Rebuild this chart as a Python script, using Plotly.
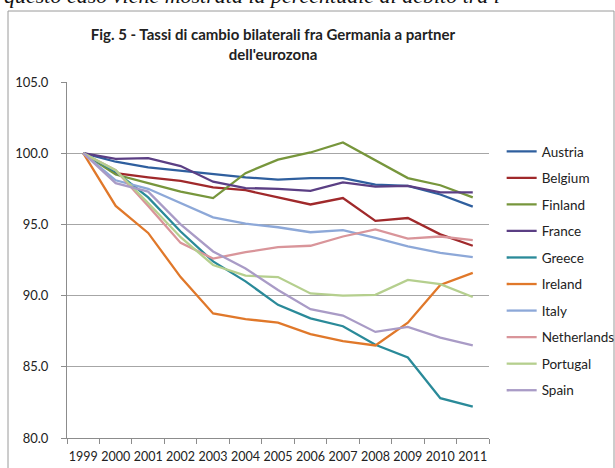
import plotly.graph_objects as go

years = [str(y) for y in range(1999, 2012)]

austria = [100, 99.4, 99.0, 98.75, 98.5, 98.3, 98.15, 98.25, 98.25, 97.8, 97.7, 97.1, 96.25]
belgium = [100, 98.6, 98.3, 98.05, 97.6, 97.4, 96.9, 96.4, 96.85, 95.25, 95.45, 94.3, 93.5]
finland = [100, 98.5, 97.9, 97.3, 96.85, 98.6, 99.55, 100.05, 100.75, 99.5, 98.25, 97.75, 96.9]
france = [100, 99.6, 99.65, 99.1, 98.0, 97.55, 97.5, 97.35, 97.95, 97.65, 97.7, 97.25, 97.25]
greece = [100, 98.7, 96.9, 94.5, 92.4, 91.0, 89.35, 88.4, 87.85, 86.55, 85.65, 82.8, 82.2]
ireland = [100, 96.3, 94.4, 91.3, 88.75, 88.35, 88.1, 87.3, 86.8, 86.5, 88.1, 90.75, 91.6]
italy = [100, 98.1, 97.5, 96.5, 95.5, 95.05, 94.8, 94.45, 94.6, 94.05, 93.45, 93.0, 92.7]
netherlands = [100, 98.8, 96.3, 93.7, 92.6, 93.05, 93.4, 93.5, 94.15, 94.65, 94.0, 94.15, 93.9]
portugal = [100, 98.8, 96.5, 94.1, 92.15, 91.4, 91.3, 90.15, 90.0, 90.05, 91.1, 90.8, 89.9]
spain = [100, 97.9, 97.3, 95.0, 93.1, 91.9, 90.4, 89.05, 88.6, 87.45, 87.8, 87.05, 86.5]

names = ["Austria", "Belgium", "Finland", "France", "Greece", "Ireland",
         "Italy", "Netherlands", "Portugal", "Spain"]
series = [austria, belgium, finland, france, greece, ireland,
          italy, netherlands, portugal, spain]
colors = ["#2F5F9E", "#A0292B", "#77963C", "#5B3F84", "#2A8A99", "#E0782A",
          "#8DA8D8", "#D9959A", "#B5CF8E", "#A99BC6"]

y_ticks = [80, 85, 90, 95, 100, 105]
y_tick_text = ["80.0", "85.0", "90.0", "95.0", "100.0", "105.0"]

FONT = "Lato, 'Open Sans', sans-serif"

fig = go.Figure()
for name, vals, col in zip(names, series, colors):
    fig.add_trace(go.Scatter(
        x=years, y=vals, name=name, mode="lines", legendgroup=name,
        line=dict(color=col, width=2.3),
    ))

fig.update_layout(
    width=615, height=468,
    margin=dict(l=67, r=126, t=82, b=30, autoexpand=False),
    paper_bgcolor="white", plot_bgcolor="white",
    font=dict(family=FONT, size=13, color="#222222"),
    title=dict(
        text="<b>Fig. 5 - Tassi di cambio bilaterali fra Germania a partner<br>dell'eurozona</b>",
        x=273 / 615, xanchor="center", y=1 - 40 / 468, yanchor="middle",
        font=dict(family=FONT, size=15, color="#222222"),
    ),
    legend=dict(
        x=1.03, xanchor="left", y=(438 - 136) / 356, yanchor="top",
        font=dict(family=FONT, size=13.5, color="#222222"),
        tracegroupgap=6, itemwidth=30, bgcolor="rgba(0,0,0,0)",
    ),
    showlegend=True,
)

fig.update_xaxes(
    type="category", range=[-0.5, 12.5], tickangle=0, automargin=False,
    showline=True, linecolor="#8C8C8C", linewidth=1,
    ticks="outside", tickson="boundaries", ticklen=5, tickcolor="#8C8C8C",
    ticklabelstandoff=7,
    showgrid=False, tickfont=dict(family=FONT, size=12.5, color="#222222"),
)
fig.update_yaxes(
    range=[80, 105], tickvals=y_ticks, ticktext=y_tick_text, automargin=False,
    showline=True, linecolor="#8C8C8C", linewidth=1,
    ticks="outside", ticklen=5, tickcolor="#8C8C8C",
    ticklabelstandoff=10,
    showgrid=True, gridcolor="#A6A6A6", gridwidth=1,
    zeroline=False, tickfont=dict(family=FONT, size=13, color="#222222"),
)

# chart-area frame
fig.add_shape(type="rect", xref="paper", yref="paper",
              x0=(8 - 67) / 422, x1=(614 - 67) / 422,
              y0=(438 - 480) / 356, y1=(438 - 11) / 356,
              line=dict(color="#9A9A9A", width=1), layer="below")

# running text of the page above the chart
fig.add_annotation(
    text="<i>questo caso viene mostrata la percentuale di debito tra i</i>",
    xref="paper", yref="paper", x=(2 - 67) / 422, xanchor="left",
    y=(438 + 4) / 356, yanchor="middle", showarrow=False,
    font=dict(family="'Liberation Serif', serif", size=22, color="#111111"),
)

fig.write_html("out.html")
